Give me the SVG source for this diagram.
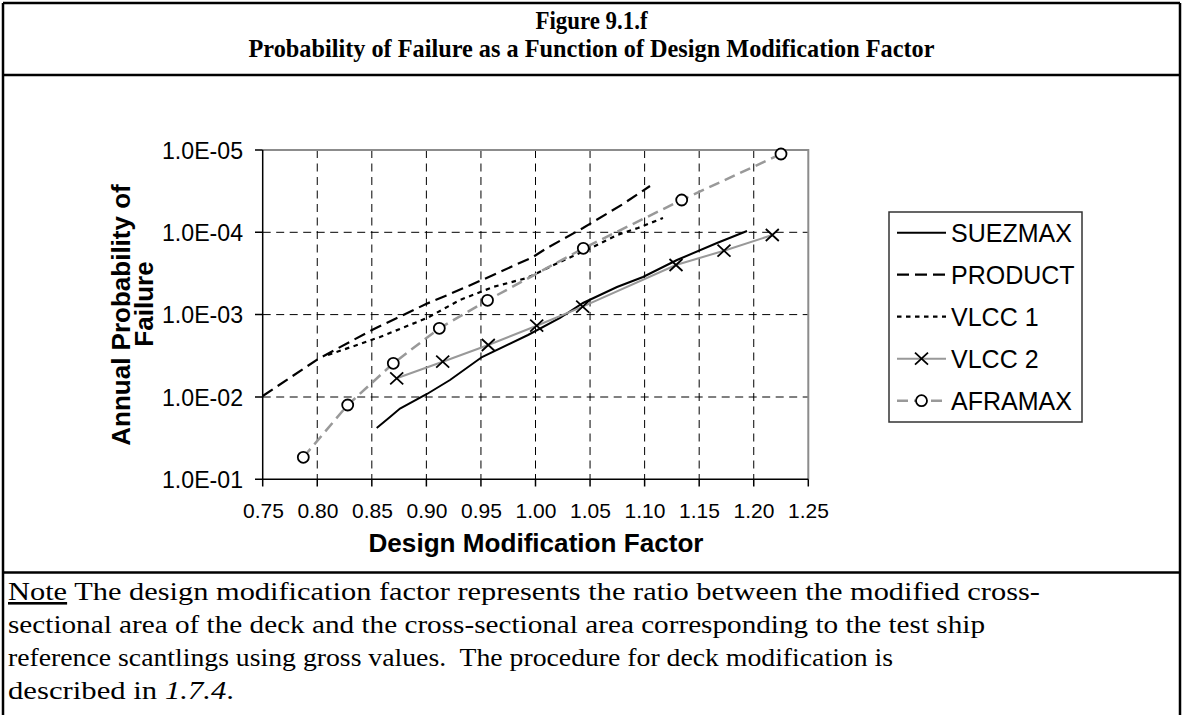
<svg xmlns="http://www.w3.org/2000/svg" width="1183" height="715" viewBox="0 0 1183 715">
<style>
.frame{stroke:#000;stroke-width:2.5;fill:none}
.ttl{font-family:"Liberation Serif",serif;font-weight:bold;font-size:25px;fill:#000}
.note{font-family:"Liberation Serif",serif;font-size:26px;fill:#000}
.grid{stroke:#000;stroke-width:1;stroke-dasharray:8 5.5;fill:none}
.axis{stroke:#000;stroke-width:1.5;fill:none}
.pborder{stroke:#8c8c8c;stroke-width:2;fill:none}
.ylab{font-family:"Liberation Sans",Arial,sans-serif;font-size:24px;fill:#000;text-anchor:end}
.xlab{font-family:"Liberation Sans",Arial,sans-serif;font-size:21px;fill:#000;text-anchor:middle}
.atl{font-family:"Liberation Sans",Arial,sans-serif;font-size:26px;font-weight:bold;fill:#000;text-anchor:middle}
.leg{font-family:"Liberation Sans",Arial,sans-serif;font-size:25px;fill:#000}
.suez{stroke:#000;stroke-width:2;fill:none}
.prod{stroke:#000;stroke-width:2.2;stroke-dasharray:12 6;fill:none}
.vl1{stroke:#000;stroke-width:2.2;stroke-dasharray:4.5 4.5;fill:none}
.vl2{stroke:#999;stroke-width:2;fill:none}
.afr{stroke:#999;stroke-width:2.5;stroke-dasharray:11 6;fill:none}
.xm{stroke:#000;stroke-width:1.8;fill:none}
.om{stroke:#000;stroke-width:1.8;fill:#fff}
</style>
<defs>
<path id="xmark" d="M-6.5,-6 L6.5,6 M-6.5,6 L6.5,-6" class="xm"/>
<circle id="omark" r="5.5" class="om"/>
</defs>

<g id="frame">
<line class="frame" x1="3" y1="3" x2="1180" y2="3"/>
<line class="frame" x1="3" y1="3" x2="3" y2="715"/>
<line class="frame" x1="1180" y1="3" x2="1180" y2="715"/>
<line class="frame" x1="3" y1="75" x2="1180" y2="75"/>
<line class="frame" x1="3" y1="572.5" x2="1180" y2="572.5"/>
</g>

<g id="title">
<text class="ttl" x="591.5" y="29" text-anchor="middle" textLength="112" lengthAdjust="spacingAndGlyphs">Figure 9.1.f</text>
<text class="ttl" x="591.5" y="57" text-anchor="middle" textLength="686" lengthAdjust="spacingAndGlyphs">Probability of Failure as a Function of Design Modification Factor</text>
</g>

<g id="plot-grid">
<path class="grid" d="M317.26,150V479.3M371.82,150V479.3M426.38,150V479.3M480.94,150V479.3M535.5,150V479.3M590.06,150V479.3M644.62,150V479.3M699.18,150V479.3M753.74,150V479.3"/>
<path class="grid" d="M262.7,232.3H808.3M262.7,314.6H808.3M262.7,397H808.3"/>
<path class="pborder" d="M262.7,150H808.3V479.3"/>
<path class="axis" d="M262.7,150V479.3H808.3"/>
<path class="axis" d="M255,150H262.7M255,232.3H262.7M255,314.6H262.7M255,397H262.7M255,479.3H262.7"/>
<path class="axis" d="M262.7,479.3V486.5M317.26,479.3V486.5M371.82,479.3V486.5M426.38,479.3V486.5M480.94,479.3V486.5M535.5,479.3V486.5M590.06,479.3V486.5M644.62,479.3V486.5M699.18,479.3V486.5M753.74,479.3V486.5M808.3,479.3V486.5"/>
</g>

<g id="y-labels">
<text class="ylab" x="243" y="158.5" textLength="81" lengthAdjust="spacingAndGlyphs">1.0E-05</text>
<text class="ylab" x="243" y="240.8" textLength="81" lengthAdjust="spacingAndGlyphs">1.0E-04</text>
<text class="ylab" x="243" y="323.1" textLength="81" lengthAdjust="spacingAndGlyphs">1.0E-03</text>
<text class="ylab" x="243" y="405.5" textLength="81" lengthAdjust="spacingAndGlyphs">1.0E-02</text>
<text class="ylab" x="243" y="487.8" textLength="81" lengthAdjust="spacingAndGlyphs">1.0E-01</text>
</g>

<g id="x-labels">
<text class="xlab" x="263.5" y="518">0.75</text>
<text class="xlab" x="318" y="518">0.80</text>
<text class="xlab" x="372.5" y="518">0.85</text>
<text class="xlab" x="427" y="518">0.90</text>
<text class="xlab" x="481.5" y="518">0.95</text>
<text class="xlab" x="536" y="518">1.00</text>
<text class="xlab" x="590.5" y="518">1.05</text>
<text class="xlab" x="645" y="518">1.10</text>
<text class="xlab" x="699.5" y="518">1.15</text>
<text class="xlab" x="754" y="518">1.20</text>
<text class="xlab" x="808.5" y="518">1.25</text>
</g>

<g id="axis-titles">
<text class="atl" x="536" y="552" textLength="335" lengthAdjust="spacingAndGlyphs">Design Modification Factor</text>
<text class="atl" transform="translate(130,315) rotate(-90)" x="0" y="0">Annual Probability of</text>
<text class="atl" transform="translate(153,304) rotate(-90)" x="0" y="0">Failure</text>
</g>

<g id="connectors">
<path id="s-suezmax" class="suez" d="M376.7,428 L390,417 L400,408.5 L427,394 L450,380 L482,357 L528,335 L560,318 L583,303 L617,287 L643,277 L677,260 L717,243 L747,231"/>
<path id="s-product" class="prod" d="M262.7,396 L318,359 L372,330 L397,318 L426,304 L450,294 L482,280 L533,257 L547,248 L583,228 L623,204 L650,186"/>
<path id="s-vlcc1" class="vl1" d="M328,355 L380,337 L427,318 L460,300 L493,287 L527,278 L560,262 L593,247 L617,235 L638,228 L663,218"/>
<path id="s-vlcc2" class="vl2" d="M396.7,378.3 L442.7,361.7 L488.3,345 L536.7,325.7 L582.7,306.7 L676,265 L724,250.7 L772.3,235"/>
<path id="s-aframax" class="afr" d="M303.3,457.3 L347.7,405 L393.3,363.3 L439.3,328.3 L487.5,300.3 L583.3,248.3 L681.7,200 L781,154"/>
</g>

<g id="markers-vlcc2">
<use href="#xmark" x="396.7" y="378.3"/>
<use href="#xmark" x="442.7" y="361.7"/>
<use href="#xmark" x="488.3" y="345"/>
<use href="#xmark" x="536.7" y="325.7"/>
<use href="#xmark" x="582.7" y="306.7"/>
<use href="#xmark" x="676" y="265"/>
<use href="#xmark" x="724" y="250.7"/>
<use href="#xmark" x="772.3" y="235"/>
</g>
<g id="markers-aframax">
<use href="#omark" x="303.3" y="457.3"/>
<use href="#omark" x="347.7" y="405"/>
<use href="#omark" x="393.3" y="363.3"/>
<use href="#omark" x="439.3" y="328.3"/>
<use href="#omark" x="487.5" y="300.3"/>
<use href="#omark" x="583.3" y="248.3"/>
<use href="#omark" x="681.7" y="200"/>
<use href="#omark" x="781" y="154"/>
</g>

<g id="legend">
<rect x="889" y="212" width="193" height="210" fill="#fff" stroke="#333" stroke-width="1.5"/>
<line class="suez" x1="897" y1="232.7" x2="946" y2="232.7"/>
<text class="leg" x="951" y="241.7">SUEZMAX</text>
<line class="prod" x1="897" y1="274.7" x2="946" y2="274.7" stroke-dasharray="10 5"/>
<text class="leg" x="951" y="283.7">PRODUCT</text>
<line class="vl1" x1="897" y1="316.7" x2="946" y2="316.7"/>
<text class="leg" x="951" y="325.7">VLCC 1</text>
<line class="vl2" x1="897" y1="358.7" x2="946" y2="358.7"/>
<use href="#xmark" x="921.5" y="358.7"/>
<text class="leg" x="951" y="367.7">VLCC 2</text>
<line class="afr" x1="897" y1="400.7" x2="946" y2="400.7" stroke-dasharray="9 5"/>
<use href="#omark" x="921.5" y="400.7"/>
<text class="leg" x="951" y="409.7">AFRAMAX</text>
</g>

<g id="note">
<text class="note" x="8" y="600" textLength="1032" lengthAdjust="spacingAndGlyphs"><tspan text-decoration="underline">Note</tspan> The design modification factor represents the ratio between the modified cross-</text>
<text class="note" x="8" y="633" textLength="977" lengthAdjust="spacingAndGlyphs">sectional area of the deck and the cross-sectional area corresponding to the test ship</text>
<text class="note" x="8" y="666" textLength="885" lengthAdjust="spacingAndGlyphs">reference scantlings using gross values.&#160; The procedure for deck modification is</text>
<text class="note" x="8" y="699" textLength="226" lengthAdjust="spacingAndGlyphs">described in <tspan font-style="italic">1.7.4</tspan>.</text>
</g>
</svg>
